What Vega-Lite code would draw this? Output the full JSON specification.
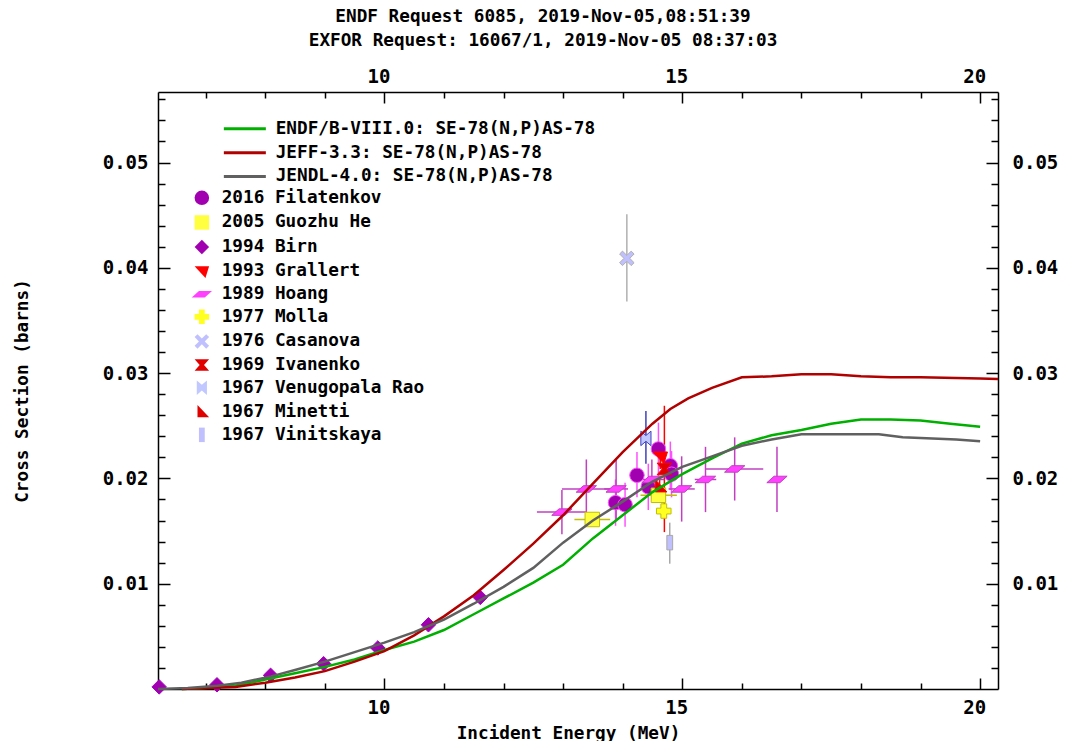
{
  "$schema": "https://vega.github.io/schema/vega-lite/v6.json",
  "width": 840,
  "height": 597,
  "autosize": {"type": "none"},
  "padding": {"left": 158, "top": 92, "right": 74, "bottom": 52},
  "background": "white",
  "title": {
    "text": "ENDF Request 6085, 2019-Nov-05,08:51:39",
    "subtitle": "EXFOR Request: 16067/1, 2019-Nov-05 08:37:03",
    "anchor": "middle", "dx": -35, "offset": 12,
    "font": "DejaVu Sans Mono", "fontSize": 17.7, "fontWeight": "bold", "color": "#000",
    "subtitleFont": "DejaVu Sans Mono", "subtitleFontSize": 17.7, "subtitleFontWeight": "bold", "subtitleColor": "#000", "subtitlePadding": 7
  },
  "config": {
    "view": {"stroke": null},
    "axis": {
      "grid": false, "domainColor": "#000", "domainWidth": 1.5, "tickColor": "#000", "tickWidth": 1.5,
      "labelFont": "DejaVu Sans Mono", "labelFontSize": 19, "labelFontWeight": "bold", "labelColor": "#000",
      "titleFont": "DejaVu Sans Mono", "titleFontSize": 17.7, "titleFontWeight": "bold", "titleColor": "#000",
      "labelFlush": false, "labelOverlap": false
    }
  },
  "datasets": {
    "lines": [
      {"lib": "ENDF/B-VIII.0: SE-78(N,P)AS-78", "E": 6.6, "s": 0.0},
      {"lib": "ENDF/B-VIII.0: SE-78(N,P)AS-78", "E": 7.0, "s": 0.0001},
      {"lib": "ENDF/B-VIII.0: SE-78(N,P)AS-78", "E": 7.5, "s": 0.0003},
      {"lib": "ENDF/B-VIII.0: SE-78(N,P)AS-78", "E": 8.0, "s": 0.0009},
      {"lib": "ENDF/B-VIII.0: SE-78(N,P)AS-78", "E": 8.5, "s": 0.0015},
      {"lib": "ENDF/B-VIII.0: SE-78(N,P)AS-78", "E": 9.0, "s": 0.0021},
      {"lib": "ENDF/B-VIII.0: SE-78(N,P)AS-78", "E": 9.5, "s": 0.0028},
      {"lib": "ENDF/B-VIII.0: SE-78(N,P)AS-78", "E": 10.0, "s": 0.0037},
      {"lib": "ENDF/B-VIII.0: SE-78(N,P)AS-78", "E": 10.5, "s": 0.0045},
      {"lib": "ENDF/B-VIII.0: SE-78(N,P)AS-78", "E": 11.0, "s": 0.0056},
      {"lib": "ENDF/B-VIII.0: SE-78(N,P)AS-78", "E": 11.5, "s": 0.0071},
      {"lib": "ENDF/B-VIII.0: SE-78(N,P)AS-78", "E": 12.0, "s": 0.0086},
      {"lib": "ENDF/B-VIII.0: SE-78(N,P)AS-78", "E": 12.5, "s": 0.0101},
      {"lib": "ENDF/B-VIII.0: SE-78(N,P)AS-78", "E": 13.0, "s": 0.0118},
      {"lib": "ENDF/B-VIII.0: SE-78(N,P)AS-78", "E": 13.5, "s": 0.0143},
      {"lib": "ENDF/B-VIII.0: SE-78(N,P)AS-78", "E": 14.0, "s": 0.0165},
      {"lib": "ENDF/B-VIII.0: SE-78(N,P)AS-78", "E": 14.5, "s": 0.0187},
      {"lib": "ENDF/B-VIII.0: SE-78(N,P)AS-78", "E": 15.0, "s": 0.0204},
      {"lib": "ENDF/B-VIII.0: SE-78(N,P)AS-78", "E": 15.5, "s": 0.0219},
      {"lib": "ENDF/B-VIII.0: SE-78(N,P)AS-78", "E": 16.0, "s": 0.0233},
      {"lib": "ENDF/B-VIII.0: SE-78(N,P)AS-78", "E": 16.5, "s": 0.0241},
      {"lib": "ENDF/B-VIII.0: SE-78(N,P)AS-78", "E": 17.0, "s": 0.0246},
      {"lib": "ENDF/B-VIII.0: SE-78(N,P)AS-78", "E": 17.5, "s": 0.0252},
      {"lib": "ENDF/B-VIII.0: SE-78(N,P)AS-78", "E": 18.0, "s": 0.0256},
      {"lib": "ENDF/B-VIII.0: SE-78(N,P)AS-78", "E": 18.5, "s": 0.0256},
      {"lib": "ENDF/B-VIII.0: SE-78(N,P)AS-78", "E": 19.0, "s": 0.0255},
      {"lib": "ENDF/B-VIII.0: SE-78(N,P)AS-78", "E": 19.5, "s": 0.0252},
      {"lib": "ENDF/B-VIII.0: SE-78(N,P)AS-78", "E": 20.0, "s": 0.0249},
      {"lib": "JEFF-3.3: SE-78(N,P)AS-78", "E": 6.6, "s": 0.0},
      {"lib": "JEFF-3.3: SE-78(N,P)AS-78", "E": 7.0, "s": 0.0001},
      {"lib": "JEFF-3.3: SE-78(N,P)AS-78", "E": 7.5, "s": 0.0002},
      {"lib": "JEFF-3.3: SE-78(N,P)AS-78", "E": 8.0, "s": 0.0006},
      {"lib": "JEFF-3.3: SE-78(N,P)AS-78", "E": 8.5, "s": 0.0011},
      {"lib": "JEFF-3.3: SE-78(N,P)AS-78", "E": 9.0, "s": 0.0017},
      {"lib": "JEFF-3.3: SE-78(N,P)AS-78", "E": 9.5, "s": 0.0026},
      {"lib": "JEFF-3.3: SE-78(N,P)AS-78", "E": 10.0, "s": 0.0036},
      {"lib": "JEFF-3.3: SE-78(N,P)AS-78", "E": 10.5, "s": 0.0051},
      {"lib": "JEFF-3.3: SE-78(N,P)AS-78", "E": 11.0, "s": 0.0069},
      {"lib": "JEFF-3.3: SE-78(N,P)AS-78", "E": 11.5, "s": 0.0089},
      {"lib": "JEFF-3.3: SE-78(N,P)AS-78", "E": 12.0, "s": 0.0113},
      {"lib": "JEFF-3.3: SE-78(N,P)AS-78", "E": 12.5, "s": 0.0138},
      {"lib": "JEFF-3.3: SE-78(N,P)AS-78", "E": 13.0, "s": 0.0165},
      {"lib": "JEFF-3.3: SE-78(N,P)AS-78", "E": 13.5, "s": 0.0195},
      {"lib": "JEFF-3.3: SE-78(N,P)AS-78", "E": 14.0, "s": 0.0225},
      {"lib": "JEFF-3.3: SE-78(N,P)AS-78", "E": 14.5, "s": 0.0252},
      {"lib": "JEFF-3.3: SE-78(N,P)AS-78", "E": 14.8, "s": 0.0266},
      {"lib": "JEFF-3.3: SE-78(N,P)AS-78", "E": 15.1, "s": 0.0276},
      {"lib": "JEFF-3.3: SE-78(N,P)AS-78", "E": 15.5, "s": 0.0286},
      {"lib": "JEFF-3.3: SE-78(N,P)AS-78", "E": 16.0, "s": 0.0296},
      {"lib": "JEFF-3.3: SE-78(N,P)AS-78", "E": 16.5, "s": 0.0297},
      {"lib": "JEFF-3.3: SE-78(N,P)AS-78", "E": 17.0, "s": 0.0299},
      {"lib": "JEFF-3.3: SE-78(N,P)AS-78", "E": 17.5, "s": 0.0299},
      {"lib": "JEFF-3.3: SE-78(N,P)AS-78", "E": 18.0, "s": 0.0297},
      {"lib": "JEFF-3.3: SE-78(N,P)AS-78", "E": 18.5, "s": 0.0296},
      {"lib": "JEFF-3.3: SE-78(N,P)AS-78", "E": 19.0, "s": 0.0296},
      {"lib": "JEFF-3.3: SE-78(N,P)AS-78", "E": 20.0, "s": 0.0295},
      {"lib": "JEFF-3.3: SE-78(N,P)AS-78", "E": 20.3, "s": 0.02945},
      {"lib": "JENDL-4.0: SE-78(N,P)AS-78", "E": 6.2, "s": 0.0},
      {"lib": "JENDL-4.0: SE-78(N,P)AS-78", "E": 6.7, "s": 0.0001},
      {"lib": "JENDL-4.0: SE-78(N,P)AS-78", "E": 7.2, "s": 0.0003},
      {"lib": "JENDL-4.0: SE-78(N,P)AS-78", "E": 7.6, "s": 0.0006},
      {"lib": "JENDL-4.0: SE-78(N,P)AS-78", "E": 8.1, "s": 0.0012},
      {"lib": "JENDL-4.0: SE-78(N,P)AS-78", "E": 8.5, "s": 0.0018},
      {"lib": "JENDL-4.0: SE-78(N,P)AS-78", "E": 9.0, "s": 0.0026},
      {"lib": "JENDL-4.0: SE-78(N,P)AS-78", "E": 9.5, "s": 0.0035},
      {"lib": "JENDL-4.0: SE-78(N,P)AS-78", "E": 10.0, "s": 0.0044},
      {"lib": "JENDL-4.0: SE-78(N,P)AS-78", "E": 10.5, "s": 0.0054},
      {"lib": "JENDL-4.0: SE-78(N,P)AS-78", "E": 11.0, "s": 0.0066},
      {"lib": "JENDL-4.0: SE-78(N,P)AS-78", "E": 11.5, "s": 0.0081},
      {"lib": "JENDL-4.0: SE-78(N,P)AS-78", "E": 12.0, "s": 0.0097},
      {"lib": "JENDL-4.0: SE-78(N,P)AS-78", "E": 12.5, "s": 0.0115},
      {"lib": "JENDL-4.0: SE-78(N,P)AS-78", "E": 13.0, "s": 0.0139},
      {"lib": "JENDL-4.0: SE-78(N,P)AS-78", "E": 13.5, "s": 0.0160},
      {"lib": "JENDL-4.0: SE-78(N,P)AS-78", "E": 14.0, "s": 0.0178},
      {"lib": "JENDL-4.0: SE-78(N,P)AS-78", "E": 14.5, "s": 0.0197},
      {"lib": "JENDL-4.0: SE-78(N,P)AS-78", "E": 15.0, "s": 0.0211},
      {"lib": "JENDL-4.0: SE-78(N,P)AS-78", "E": 15.5, "s": 0.0221},
      {"lib": "JENDL-4.0: SE-78(N,P)AS-78", "E": 16.0, "s": 0.0231},
      {"lib": "JENDL-4.0: SE-78(N,P)AS-78", "E": 16.5, "s": 0.0237},
      {"lib": "JENDL-4.0: SE-78(N,P)AS-78", "E": 17.0, "s": 0.0242},
      {"lib": "JENDL-4.0: SE-78(N,P)AS-78", "E": 18.3, "s": 0.0242},
      {"lib": "JENDL-4.0: SE-78(N,P)AS-78", "E": 18.7, "s": 0.0239},
      {"lib": "JENDL-4.0: SE-78(N,P)AS-78", "E": 19.2, "s": 0.0238},
      {"lib": "JENDL-4.0: SE-78(N,P)AS-78", "E": 19.6, "s": 0.0237},
      {"lib": "JENDL-4.0: SE-78(N,P)AS-78", "E": 20.0, "s": 0.02352}
    ],
    "exp": [
      {"ds": "2016 Filatenkov", "E": 13.88, "s": 0.0177, "slo": 0.0155, "shi": 0.0199},
      {"ds": "2016 Filatenkov", "E": 14.04, "s": 0.0175, "slo": 0.0154, "shi": 0.0196},
      {"ds": "2016 Filatenkov", "E": 14.24, "s": 0.0203, "slo": 0.0182, "shi": 0.0225},
      {"ds": "2016 Filatenkov", "E": 14.43, "s": 0.0192, "slo": 0.0170, "shi": 0.0214},
      {"ds": "2016 Filatenkov", "E": 14.60, "s": 0.0228, "slo": 0.0202, "shi": 0.0253},
      {"ds": "2016 Filatenkov", "E": 14.80, "s": 0.0212, "slo": 0.0189, "shi": 0.0235},
      {"ds": "2016 Filatenkov", "E": 14.82, "s": 0.0204, "slo": 0.0182, "shi": 0.0226},
      {"ds": "2005 Guozhu He", "E": 13.49, "s": 0.0161, "slo": 0.0156, "shi": 0.0166, "elo": 13.19, "ehi": 13.79},
      {"ds": "2005 Guozhu He", "E": 14.60, "s": 0.0184, "slo": 0.0179, "shi": 0.0189, "elo": 14.30, "ehi": 14.91},
      {"ds": "1994 Birn", "E": 6.22, "s": 0.0002},
      {"ds": "1994 Birn", "E": 7.19, "s": 0.0004},
      {"ds": "1994 Birn", "E": 8.09, "s": 0.0013},
      {"ds": "1994 Birn", "E": 8.98, "s": 0.0024},
      {"ds": "1994 Birn", "E": 9.89, "s": 0.0039},
      {"ds": "1994 Birn", "E": 10.74, "s": 0.0061},
      {"ds": "1994 Birn", "E": 11.61, "s": 0.0087},
      {"ds": "1993 Grallert", "E": 14.63, "s": 0.0221, "slo": 0.0209, "shi": 0.0233},
      {"ds": "1989 Hoang", "E": 12.98, "s": 0.0168, "slo": 0.0147, "shi": 0.0189, "elo": 12.56, "ehi": 13.40},
      {"ds": "1989 Hoang", "E": 13.39, "s": 0.0190, "slo": 0.0162, "shi": 0.0218, "elo": 12.98, "ehi": 13.80},
      {"ds": "1989 Hoang", "E": 13.89, "s": 0.0190, "slo": 0.0161, "shi": 0.0219, "elo": 13.69, "ehi": 14.09},
      {"ds": "1989 Hoang", "E": 14.49, "s": 0.0199, "slo": 0.0180, "shi": 0.0218, "elo": 14.30, "ehi": 14.70},
      {"ds": "1989 Hoang", "E": 14.99, "s": 0.0190, "slo": 0.0159, "shi": 0.0221, "elo": 14.77, "ehi": 15.21},
      {"ds": "1989 Hoang", "E": 15.39, "s": 0.0199, "slo": 0.0168, "shi": 0.0230, "elo": 15.21, "ehi": 15.57},
      {"ds": "1989 Hoang", "E": 15.88, "s": 0.0209, "slo": 0.0179, "shi": 0.0239, "elo": 15.40, "ehi": 16.36},
      {"ds": "1989 Hoang", "E": 16.59, "s": 0.0199, "slo": 0.0168, "shi": 0.0230},
      {"ds": "1977 Molla", "E": 14.69, "s": 0.0169, "slo": 0.0164, "shi": 0.0174},
      {"ds": "1976 Casanova", "E": 14.07, "s": 0.0409, "slo": 0.0368, "shi": 0.0451},
      {"ds": "1969 Ivanenko", "E": 14.70, "s": 0.0209, "slo": 0.0149, "shi": 0.0269},
      {"ds": "1967 Venugopala Rao", "E": 14.39, "s": 0.0238, "slo": 0.0214, "shi": 0.0264},
      {"ds": "1967 Minetti", "E": 14.62, "s": 0.0192, "slo": 0.0184, "shi": 0.0200},
      {"ds": "1967 Vinitskaya", "E": 14.79, "s": 0.0139, "slo": 0.0119, "shi": 0.0158}
    ]
  },
  "layer": [
    {
      "data": {"name": "exp"},
      "mark": {"type": "rule", "strokeWidth": 1.5},
      "encoding": {
        "x": {"field": "E", "type": "quantitative", "scale": {"domain": [6.2, 20.3], "nice": false, "zero": false}, "axis": null},
        "y": {"field": "slo", "type": "quantitative", "scale": {"domain": [0, 0.0567], "nice": false, "zero": false}, "axis": null},
        "y2": {"field": "shi"},
        "stroke": {"field": "ds", "type": "nominal", "legend": null,
          "scale": {"domain": ["1967 Vinitskaya", "1967 Minetti", "1967 Venugopala Rao", "1969 Ivanenko", "1976 Casanova", "1977 Molla", "1989 Hoang", "1993 Grallert", "1994 Birn", "2005 Guozhu He", "2016 Filatenkov"],
                    "range": ["#a8a8a8", "#ff0000", "#4040c0", "#ff0000", "#b0b0b0", "#c0c000", "#c040c0", "#ff0000", "#a000c0", "#c0c000", "#ff50ff"]}}
      }
    },
    {
      "data": {"name": "exp"},
      "mark": {"type": "rule", "strokeWidth": 1.5},
      "encoding": {
        "x": {"field": "elo", "type": "quantitative", "axis": null},
        "x2": {"field": "ehi"},
        "y": {"field": "s", "type": "quantitative", "axis": null},
        "stroke": {"field": "ds", "type": "nominal", "legend": null}
      }
    },
    {
      "data": {"name": "exp"},
      "mark": {"type": "point", "filled": true, "size": 210, "strokeWidth": 1, "opacity": 1},
      "encoding": {
        "x": {"field": "E", "type": "quantitative",
          "axis": {"orient": "top", "title": null, "values": [7, 8, 9, 10, 11, 12, 13, 14, 15, 16, 17, 18, 19, 20],
            "labelExpr": "datum.value % 5 === 0 ? datum.label : ''",
            "tickSize": {"condition": {"test": "datum.value % 5 === 0", "value": -11}, "value": -6},
            "labelPadding": 17, "labelOffset": -6}},
        "y": {"field": "s", "type": "quantitative",
          "axis": {"orient": "right", "title": null,
            "values": [0.002, 0.004, 0.006, 0.008, 0.01, 0.012, 0.014, 0.016, 0.018, 0.02, 0.022, 0.024, 0.026, 0.028, 0.03, 0.032, 0.034, 0.036, 0.038, 0.04, 0.042, 0.044, 0.046, 0.048, 0.05, 0.052, 0.054, 0.056],
            "labelExpr": "abs(datum.value*100 - round(datum.value*100)) < 0.01 ? format(datum.value, '.2f') : ''",
            "tickSize": {"condition": {"test": "abs(datum.value*100 - round(datum.value*100)) < 0.01", "value": -12}, "value": -7},
            "labelPadding": 26}},
        "fill": {"field": "ds", "type": "nominal",
          "scale": {"domain": ["2016 Filatenkov", "2005 Guozhu He", "1994 Birn", "1993 Grallert", "1989 Hoang", "1977 Molla", "1976 Casanova", "1969 Ivanenko", "1967 Venugopala Rao", "1967 Minetti", "1967 Vinitskaya"],
                    "range": ["#a000b0", "#ffff40", "#a000b0", "#ff0000", "#ff40ff", "#ffff20", "#c0c0ff", "#e00000", "#c0c8ff", "#e00000", "#c0c0ff"]},
          "legend": {"orient": "none", "legendX": 35, "legendY": 97, "title": null, "symbolSize": 210, "labelOffset": 11, "rowPadding": 2.6, "padding": 0,
            "labelFont": "DejaVu Sans Mono", "labelFontSize": 17.7, "labelFontWeight": "bold", "labelColor": "#000", "labelLimit": 0,
            "encode": {"symbols": {"update": {"stroke": {"scale": "stroke", "field": "value"}, "strokeWidth": {"value": 1}}}}}},
        "shape": {"field": "ds", "type": "nominal",
          "scale": {"domain": ["2016 Filatenkov", "2005 Guozhu He", "1994 Birn", "1993 Grallert", "1989 Hoang", "1977 Molla", "1976 Casanova", "1969 Ivanenko", "1967 Venugopala Rao", "1967 Minetti", "1967 Vinitskaya"],
                    "range": ["circle", "square", "diamond", "M-1,-0.6L1,-0.6L0.5,1Z", "M-0.4,-0.45L1.4,-0.45L0.4,0.45L-1.4,0.45Z", "cross", "M-1,-0.6L-0.6,-1L0,-0.4L0.6,-1L1,-0.6L0.4,0L1,0.6L0.6,1L0,0.4L-0.6,1L-1,0.6L-0.4,0Z", "M-1,-0.8L1,-0.8L0.3,0L1,0.8L-1,0.8L-0.3,0Z", "M-0.7,-1L0,-0.4L0.7,-1L0.7,1L0,0.4L-0.7,1Z", "M-0.6,-1L1,0.7L-0.6,0.7Z", "M-0.4,-1L0.4,-1L0.4,1L-0.4,1Z"]},
          "legend": {"orient": "none", "legendX": 35, "legendY": 97, "title": null, "symbolSize": 210, "labelOffset": 11, "rowPadding": 2.6, "padding": 0,
            "labelFont": "DejaVu Sans Mono", "labelFontSize": 17.7, "labelFontWeight": "bold", "labelColor": "#000", "labelLimit": 0,
            "encode": {"symbols": {"update": {"stroke": {"scale": "stroke", "field": "value"}, "strokeWidth": {"value": 1}}}}}},
        "stroke": {"field": "ds", "type": "nominal", "legend": null}
      }
    },
    {
      "data": {"name": "lines"},
      "mark": {"type": "line", "strokeWidth": 2.5},
      "encoding": {
        "x": {"field": "E", "type": "quantitative",
          "axis": {"orient": "bottom", "title": "Incident Energy (MeV)", "titlePadding": 2, "titleX": 410, "values": [7, 8, 9, 10, 11, 12, 13, 14, 15, 16, 17, 18, 19, 20],
            "labelExpr": "datum.value % 5 === 0 ? datum.label : ''",
            "tickSize": {"condition": {"test": "datum.value % 5 === 0", "value": -11}, "value": -6},
            "labelPadding": 20, "labelOffset": -6}},
        "y": {"field": "s", "type": "quantitative",
          "axis": {"orient": "left", "title": "Cross Section (barns)", "titlePadding": 71,
            "values": [0.002, 0.004, 0.006, 0.008, 0.01, 0.012, 0.014, 0.016, 0.018, 0.02, 0.022, 0.024, 0.026, 0.028, 0.03, 0.032, 0.034, 0.036, 0.038, 0.04, 0.042, 0.044, 0.046, 0.048, 0.05, 0.052, 0.054, 0.056],
            "labelExpr": "abs(datum.value*100 - round(datum.value*100)) < 0.01 ? format(datum.value, '.2f') : ''",
            "tickSize": {"condition": {"test": "abs(datum.value*100 - round(datum.value*100)) < 0.01", "value": -12}, "value": -7},
            "labelPadding": 22}},
        "color": {"field": "lib", "type": "nominal",
          "scale": {"domain": ["ENDF/B-VIII.0: SE-78(N,P)AS-78", "JEFF-3.3: SE-78(N,P)AS-78", "JENDL-4.0: SE-78(N,P)AS-78"], "range": ["#00b000", "#b00000", "#606060"]},
          "legend": {"orient": "none", "legendX": 78, "legendY": 28, "title": null, "symbolType": "M-3,0H3", "symbolSize": 196, "symbolStrokeWidth": 3, "labelOffset": 22, "rowPadding": 4.8, "padding": 0,
            "labelFont": "DejaVu Sans Mono", "labelFontSize": 17.7, "labelFontWeight": "bold", "labelColor": "#000", "labelLimit": 0}}
      }
    }
  ],
  "resolve": {"axis": {"x": "independent", "y": "independent"}}
}
